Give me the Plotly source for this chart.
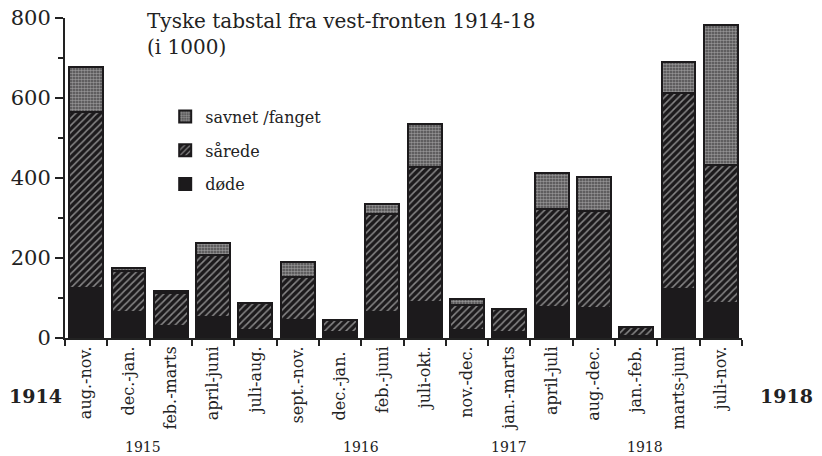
import plotly.graph_objects as go

categories = ["aug.-nov.", "dec.-jan.", "feb.-marts", "april-juni", "juli-aug.",
              "sept.-nov.", "dec.-jan. ", "feb.-juni", "juli-okt.", "nov.-dec.",
              "jan.-marts", "april-juli", "aug.-dec.", "jan.-feb.", "marts-juni",
              "juli-nov."]
doede = [125, 65, 30, 52, 20, 45, 15, 65, 90, 20, 15, 78, 75, 6, 122, 88]
saarede = [440, 102, 82, 155, 67, 108, 30, 245, 338, 62, 57, 244, 243, 21, 490, 344]
savnet = [113, 8, 6, 31, 0, 37, 0, 25, 107, 16, 0, 90, 84, 0, 78, 350]
year_labels = ["1915", "1916", "1917", "1918"]
year_pos = [1.35, 6.5, 10.0, 13.2]

SERIF = "DejaVu Serif"
DARK = "#1c1a1c"
x_idx = list(range(len(categories)))

fig = go.Figure()
fig.add_trace(go.Bar(
    x=x_idx, y=doede, name="døde", legendrank=3, legendgroup="g3",
    marker=dict(color=DARK, line=dict(color=DARK, width=2)),
    width=0.8,
))
fig.add_trace(go.Bar(
    x=x_idx, y=saarede, name="sårede", legendrank=2, legendgroup="g2",
    marker=dict(color=DARK, line=dict(color=DARK, width=2),
                pattern=dict(shape="/", fgcolor="#f2f2f2", bgcolor=DARK,
                             size=5, solidity=0.3, fillmode="overlay")),
    width=0.8,
))
fig.add_trace(go.Bar(
    x=x_idx, y=savnet, name="savnet /fanget", legendrank=1, legendgroup="g1",
    marker=dict(color="#4a484a", line=dict(color=DARK, width=2),
                pattern=dict(shape=".", fgcolor="#dcdcdc", bgcolor="#4a484a",
                             size=3, solidity=0.55, fillmode="overlay")),
    width=0.8,
))

annotations = []
annotations.append(dict(x=0.118, y=1.034, xref="paper", yref="paper",
                        text="Tyske tabstal fra vest-fronten 1914-18<br>(i 1000)",
                        align="left", showarrow=False, xanchor="left", yanchor="top",
                        font=dict(family=SERIF, size=20, color="#222")))
for lab, pos in zip(year_labels, year_pos):
    annotations.append(dict(x=pos, y=-0.34, xref="x", yref="paper", text=lab,
                            showarrow=False, font=dict(family=SERIF, size=14, color="#222"),
                            xanchor="center", yanchor="middle"))
annotations.append(dict(x=-0.044, y=-0.181, xref="paper", yref="paper", text="<b>1914</b>",
                        showarrow=False, font=dict(family=SERIF, size=19, color="#222"),
                        xanchor="center", yanchor="middle"))
annotations.append(dict(x=1.065, y=-0.181, xref="paper", yref="paper", text="<b>1918</b>",
                        showarrow=False, font=dict(family=SERIF, size=19, color="#222"),
                        xanchor="center", yanchor="middle"))

fig.update_layout(
    width=822, height=456,
    margin=dict(l=65, r=80, t=18, b=118, autoexpand=False),
    paper_bgcolor="white", plot_bgcolor="white",
    barmode="stack",
    bargap=0.2,
    font=dict(family=SERIF, color="#222"),
    legend=dict(x=0.148, y=0.745, xanchor="left", yanchor="top",
                traceorder="grouped", tracegroupgap=10,
                font=dict(family=SERIF, size=16, color="#222"),
                bgcolor="rgba(0,0,0,0)"),
    annotations=annotations,
    xaxis=dict(
        tickmode="array", tickvals=x_idx, ticktext=categories,
        range=[-0.5, len(categories) - 0.5], automargin=False,
        tickangle=-90, tickfont=dict(family=SERIF, size=16, color="#222"),
        showline=True, linecolor="#222", linewidth=2,
        ticks="", showgrid=False, zeroline=False,
        minor=dict(tickvals=[i - 0.5 for i in range(len(categories) + 1)],
                   ticks="outside", ticklen=6, tickcolor="#222", tickwidth=2),
    ),
    yaxis=dict(
        range=[0, 800], tickvals=[0, 200, 400, 600, 800], automargin=False,
        ticklabeloverflow="allow",
        tickfont=dict(family=SERIF, size=21, color="#222"),
        showline=True, linecolor="#222", linewidth=2,
        ticks="outside", ticklen=8, tickwidth=2, tickcolor="#222",
        showgrid=False, zeroline=False,
        minor=dict(dtick=100, ticks="outside", ticklen=5, tickwidth=1.5, tickcolor="#222"),
    ),
)

fig.write_html("out.html", config={"displayModeBar": False},
               post_script="document.body.style.margin='0';")
